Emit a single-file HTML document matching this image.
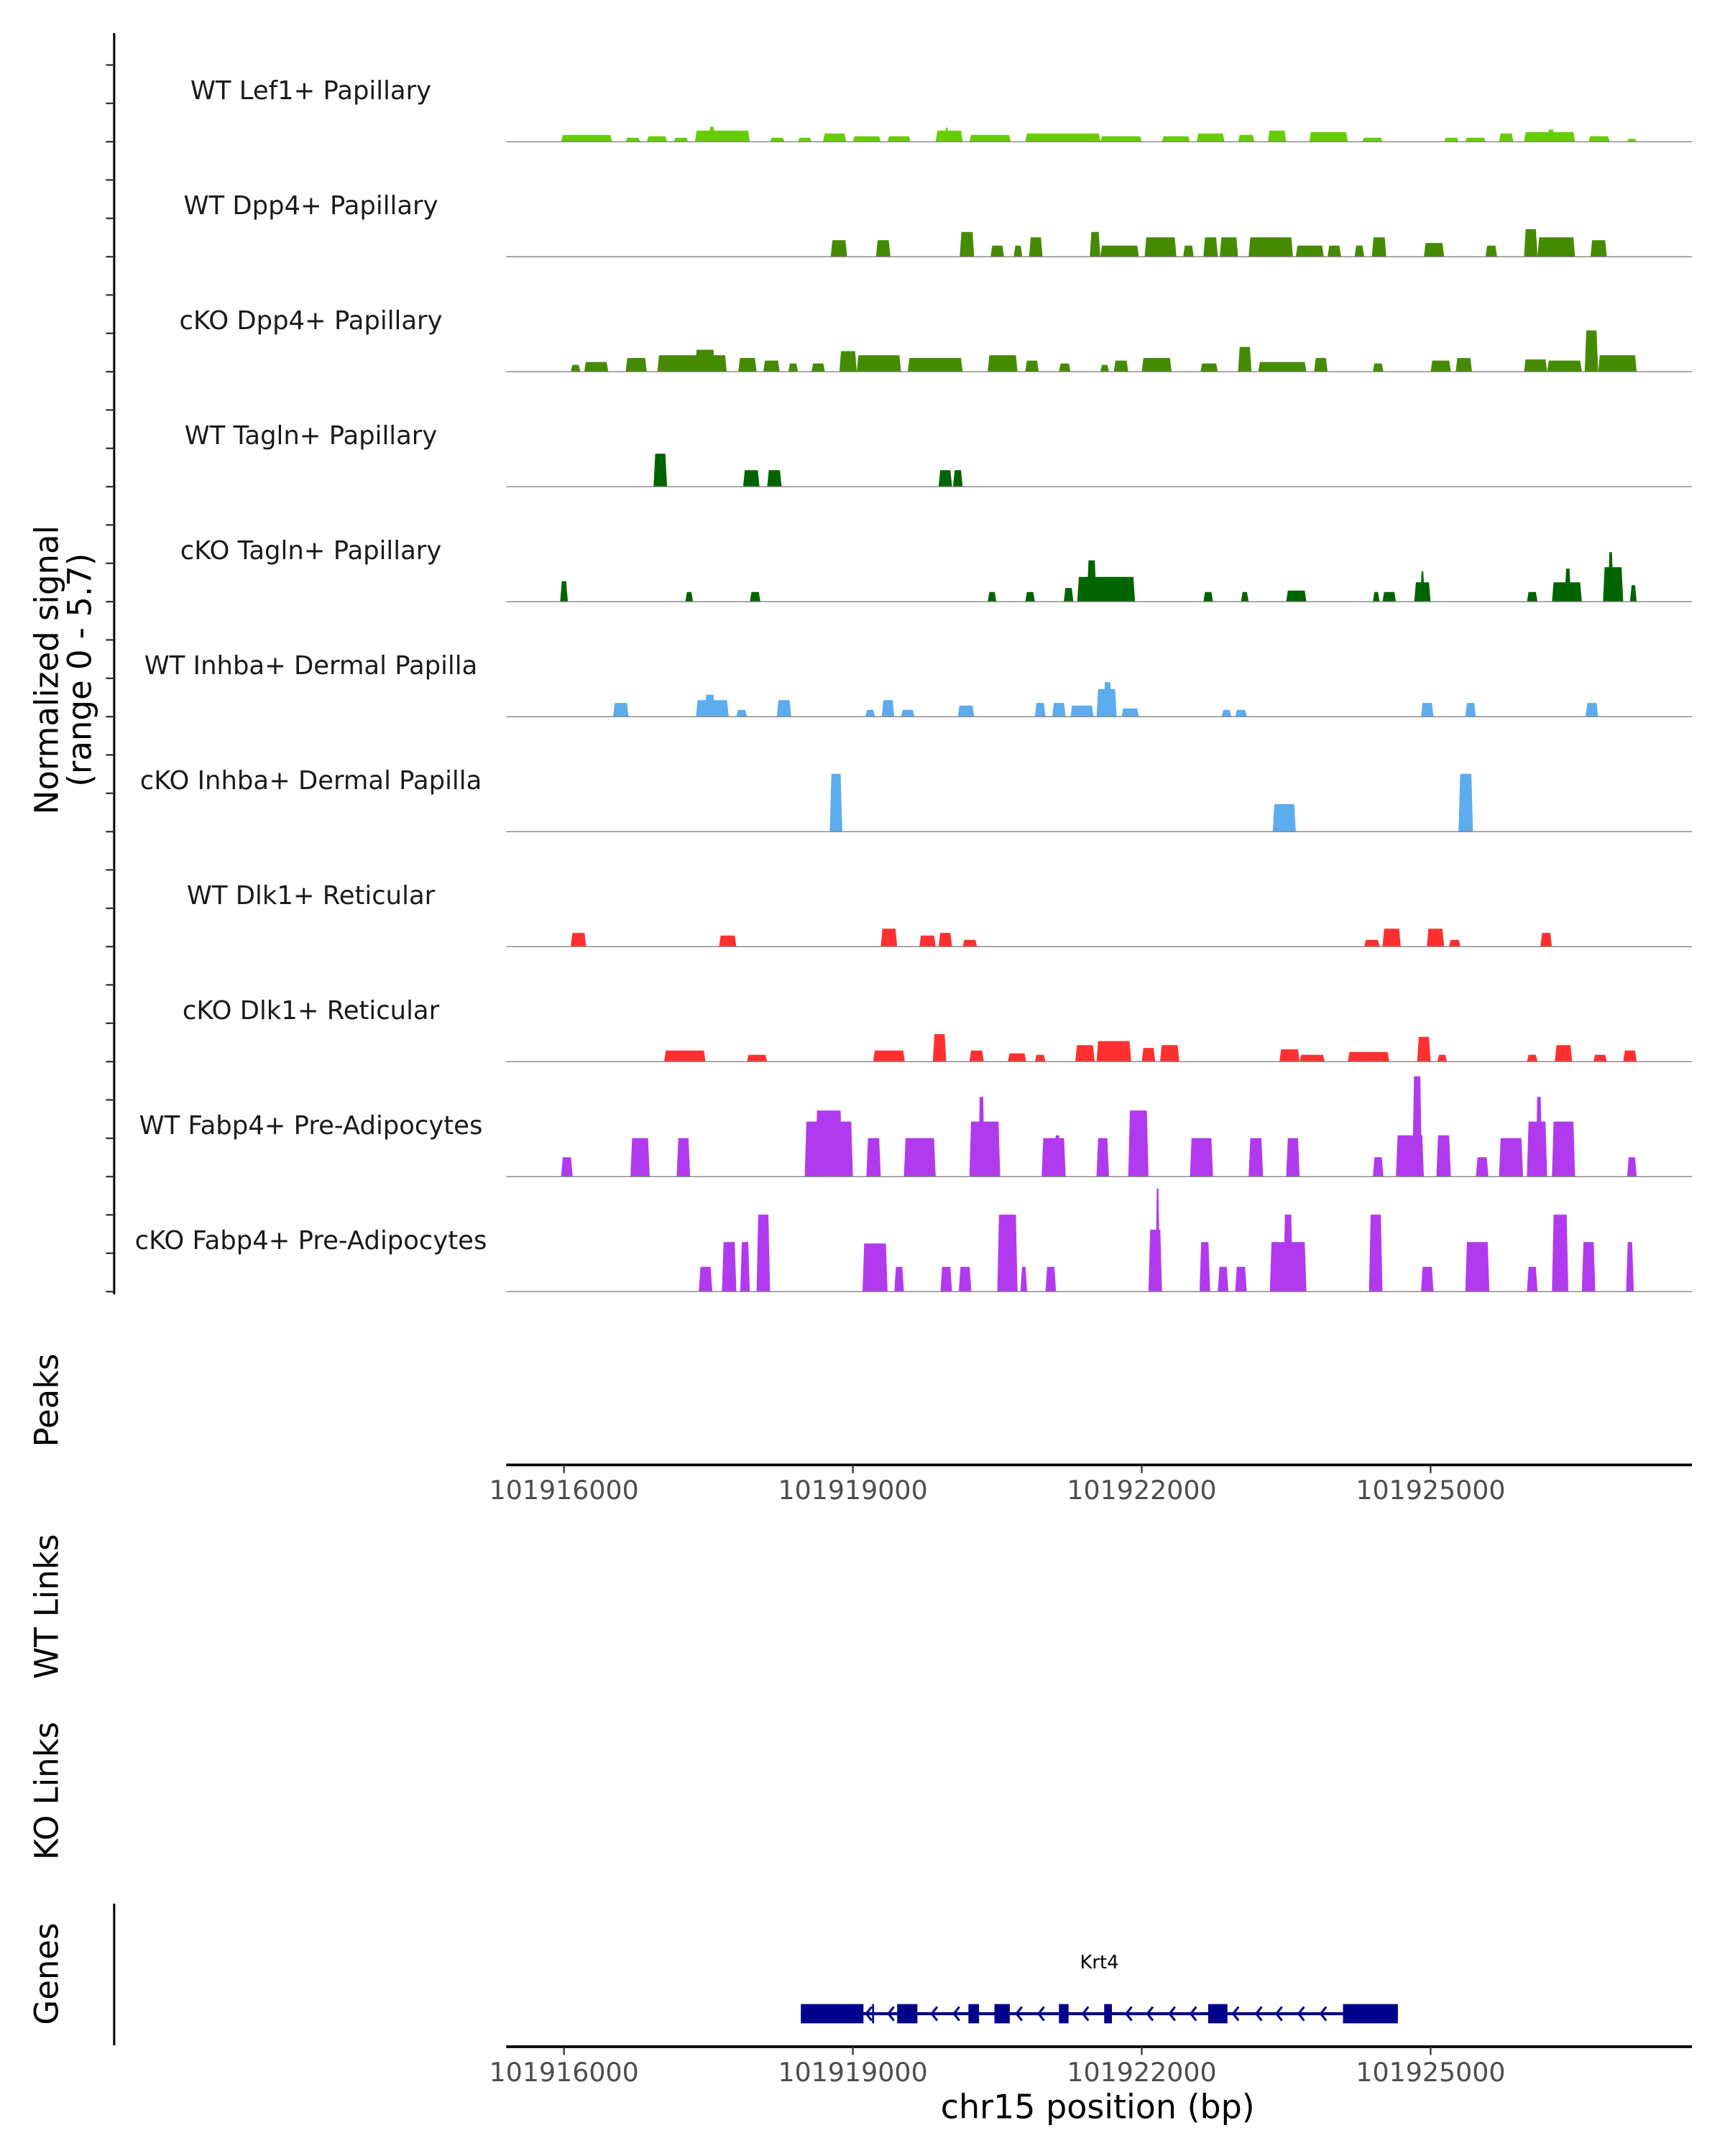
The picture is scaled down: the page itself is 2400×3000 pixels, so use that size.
<!DOCTYPE html>
<html><head><meta charset="utf-8"><style>
html,body{margin:0;padding:0;background:#fff;}
svg{display:block;font-family:"DejaVu Sans","Liberation Sans",sans-serif;}
</style></head><body>
<svg id="chart" width="2400" height="3000" viewBox="0 0 1254 1567.4" xmlns="http://www.w3.org/2000/svg">
<g id="tracks"></g>
<g id="axes"></g>
<g id="genes"></g>
</svg>
<script>
// ---- data ----
const regionStart = 101916000; // bp, offsets below are kb from this
const yMax = 5.7;
const trackNames = ["WT Lef1+ Papillary","WT Dpp4+ Papillary","cKO Dpp4+ Papillary","WT Tagln+ Papillary","cKO Tagln+ Papillary","WT Inhba+ Dermal Papilla","cKO Inhba+ Dermal Papilla","WT Dlk1+ Reticular","cKO Dlk1+ Reticular","WT Fabp4+ Pre-Adipocytes","cKO Fabp4+ Pre-Adipocytes"];
const trackColors = ["#66CD00","#458B00","#458B00","#006400","#006400","#5CACEE","#5CACEE","#FF3030","#FF3030","#B23AEE","#B23AEE"];
// [startKb, endKb, signal]
const sigLef1WT = [[-0.03,0.5,0.34],[0.64,0.79,0.2],[0.86,1.07,0.27],[1.14,1.29,0.2],[1.36,1.93,0.55],[1.5,1.57,0.75],[2.14,2.29,0.2],[2.43,2.57,0.2],[2.69,2.93,0.41],[3.0,3.29,0.27],[3.36,3.6,0.27],[3.86,4.14,0.55],[3.95,4.0,0.7],[4.21,4.64,0.34],[4.79,5.57,0.41],[5.57,6.0,0.27],[6.21,6.5,0.27],[6.57,6.86,0.41],[7.0,7.17,0.34],[7.31,7.5,0.55],[7.74,8.14,0.48],[8.29,8.5,0.2],[9.14,9.29,0.2],[9.36,9.57,0.2],[9.71,9.86,0.41],[9.97,10.5,0.48],[10.21,10.29,0.6],[10.64,10.86,0.27],[11.04,11.14,0.14]];
const sigDpp4WT = [[2.77,2.94,0.82],[3.24,3.39,0.82],[4.11,4.26,1.23],[4.43,4.57,0.55],[4.67,4.76,0.55],[4.83,4.97,0.96],[5.46,5.57,1.23],[5.57,5.97,0.55],[6.03,6.36,0.96],[6.43,6.54,0.55],[6.64,6.79,0.96],[6.81,7.0,0.96],[7.11,7.57,0.96],[7.6,7.89,0.55],[7.93,8.07,0.55],[8.21,8.31,0.55],[8.39,8.54,0.96],[8.93,9.14,0.68],[9.57,9.69,0.55],[9.97,10.11,1.37],[10.11,10.5,0.96],[10.66,10.83,0.82]];
const sigDpp4KO = [[0.07,0.17,0.34],[0.21,0.46,0.48],[0.64,0.86,0.68],[0.97,1.69,0.82],[1.36,1.57,1.09],[1.81,2.0,0.68],[2.07,2.24,0.55],[2.33,2.43,0.41],[2.57,2.71,0.41],[2.86,3.04,1.02],[3.04,3.5,0.82],[3.57,4.14,0.68],[4.4,4.71,0.82],[4.79,4.93,0.55],[5.14,5.26,0.41],[5.57,5.66,0.34],[5.71,5.86,0.55],[6.0,6.31,0.68],[6.61,6.79,0.41],[7.0,7.14,1.23],[7.21,7.71,0.48],[7.79,7.93,0.68],[8.4,8.51,0.41],[9.0,9.21,0.55],[9.26,9.43,0.68],[9.97,10.21,0.61],[10.21,10.57,0.55],[10.6,10.74,2.05],[10.74,11.14,0.82]];
const sigTaglnWT = [[0.93,1.07,1.64],[1.86,2.03,0.82],[2.11,2.26,0.82],[3.89,4.03,0.82],[4.04,4.14,0.82]];
const sigTaglnKO = [[-0.04,0.04,1.02],[1.26,1.34,0.48],[1.93,2.04,0.48],[4.4,4.49,0.48],[4.79,4.89,0.48],[5.19,5.29,0.68],[5.33,5.93,1.23],[5.43,5.53,2.05],[6.64,6.74,0.48],[7.03,7.11,0.48],[7.5,7.71,0.55],[8.4,8.47,0.48],[8.5,8.64,0.48],[8.83,9.0,0.96],[8.89,8.94,1.5],[10.0,10.11,0.48],[10.26,10.57,0.96],[10.39,10.46,1.64],[10.79,11.0,1.71],[10.84,10.9,2.46],[11.07,11.14,0.82]];
const sigInhbaWT = [[0.51,0.67,0.68],[1.37,1.71,0.82],[1.46,1.57,1.09],[1.79,1.9,0.34],[2.21,2.36,0.82],[3.13,3.23,0.34],[3.3,3.43,0.82],[3.5,3.64,0.34],[4.09,4.26,0.55],[4.89,5.0,0.68],[5.07,5.21,0.68],[5.26,5.5,0.55],[5.53,5.74,1.37],[5.6,5.69,1.71],[5.79,5.97,0.41],[6.83,6.93,0.34],[6.97,7.09,0.34],[8.9,9.03,0.68],[9.36,9.47,0.68],[10.61,10.74,0.68]];
const sigInhbaKO = [[2.76,2.89,2.87],[7.36,7.6,1.37],[9.29,9.44,2.87]];
const sigDlk1WT = [[0.07,0.23,0.68],[1.61,1.79,0.55],[3.29,3.46,0.89],[3.69,3.86,0.55],[3.89,4.03,0.68],[4.14,4.29,0.34],[8.31,8.47,0.34],[8.5,8.69,0.89],[8.96,9.14,0.89],[9.19,9.31,0.34],[10.14,10.26,0.68]];
const sigDlk1KO = [[1.04,1.47,0.55],[1.9,2.11,0.34],[3.21,3.54,0.55],[3.83,3.97,1.37],[4.21,4.36,0.55],[4.61,4.8,0.41],[4.89,5.0,0.34],[5.31,5.51,0.82],[5.53,5.89,1.02],[6.0,6.14,0.68],[6.19,6.39,0.82],[7.43,7.64,0.61],[7.64,7.9,0.34],[8.14,8.57,0.48],[8.86,9.0,1.23],[9.07,9.17,0.34],[10.0,10.11,0.34],[10.29,10.47,0.82],[10.69,10.83,0.34],[11.0,11.14,0.55]];
const sigFabp4WT = [[-0.03,0.09,0.96],[0.69,0.89,1.91],[1.17,1.31,1.91],[2.5,3.0,2.73],[2.61,2.89,3.28],[3.14,3.29,1.91],[3.53,3.86,1.91],[4.21,4.53,2.73],[4.3,4.37,3.96],[4.96,5.21,1.91],[5.09,5.16,2.05],[5.53,5.66,1.91],[5.86,6.07,3.28],[6.5,6.74,1.91],[7.11,7.26,1.91],[7.5,7.64,1.91],[8.4,8.51,0.96],[8.64,8.93,2.05],[8.81,8.91,4.98],[9.06,9.21,2.05],[9.47,9.6,0.96],[9.71,9.96,1.91],[10.0,10.21,2.73],[10.09,10.16,3.96],[10.26,10.5,2.73],[11.04,11.14,0.96]];
const sigFabp4KO = [[1.4,1.54,1.23],[1.64,1.79,2.46],[1.83,1.93,2.46],[2.0,2.14,3.82],[3.1,3.36,2.39],[3.43,3.53,1.23],[3.91,4.03,1.23],[4.1,4.23,1.23],[4.5,4.71,3.82],[4.74,4.81,1.23],[5.0,5.11,1.23],[6.07,6.21,3.07],[6.14,6.19,5.12],[6.6,6.71,2.46],[6.79,6.9,1.23],[6.97,7.09,1.23],[7.33,7.71,2.46],[7.47,7.57,3.82],[8.36,8.5,3.82],[8.9,9.03,1.23],[9.36,9.61,2.46],[10.0,10.11,1.23],[10.26,10.43,3.82],[10.57,10.71,2.46],[11.03,11.11,2.46]];
const allSignals = [sigLef1WT,sigDpp4WT,sigDpp4KO,sigTaglnWT,sigTaglnKO,sigInhbaWT,sigInhbaKO,sigDlk1WT,sigDlk1KO,sigFabp4WT,sigFabp4KO];
const xTickLabels = [101916000,101919000,101922000,101925000];
const geneName = "Krt4";
const geneStartKb = 2.46, geneEndKb = 8.66;
const exonsKb = [[2.46,3.11],[3.2,3.22],[3.46,3.67],[4.2,4.31],[4.47,4.63],[5.14,5.24],[5.61,5.69],[6.69,6.89],[8.09,8.66]];
const arrowsKb = [3.16,3.39,3.84,4.07,4.72,4.95,5.41,5.86,6.08,6.31,6.53,6.97,7.21,7.42,7.65,7.88];

// ---- scales ----
const NS="http://www.w3.org/2000/svg";
const plotL=368, plotR=1230;
function xKb(kb){return 410+kb*70;}
function xBp(bp){return xKb((bp-regionStart)/1000);}
const base0=103, step=83.6, trackH=83.5;
function ySig(i,v){return base0+i*step - v/yMax*trackH;}
function mk(tag,attrs,parent){const e=document.createElementNS(NS,tag);for(const k in attrs)e.setAttribute(k,attrs[k]);parent.appendChild(e);return e;}
const tracks=document.getElementById('tracks'), axes=document.getElementById('axes'), genes=document.getElementById('genes');

allSignals.forEach((sig,i)=>{
  const g=mk('g',{},tracks);
  
  
  const b=base0+i*step;
  const lab=mk('text',{x:226,y:b-31,'text-anchor':'middle','font-size':18.5,fill:'#1a1a1a'},g);
  lab.textContent=trackNames[i];
  
  
  sig.forEach(s=>{
    const x1=xKb(s[0]),x2=xKb(s[1]),yt=ySig(i,s[2]);
    const d=Math.min(1.2,(x2-x1)/3);
    const p=mk('polygon',{points:`${x1},${b} ${x1+d},${yt} ${x2-d},${yt} ${x2},${b}`,fill:trackColors[i]},g);
    
    
  });
  const ln=mk('line',{x1:plotL,x2:plotR,y1:b,y2:b,stroke:'#8c8c8c','stroke-width':0.8},g);
  
  
});

// left axis
const la=mk('line',{x1:83,x2:83,y1:24,y2:941,stroke:'#000','stroke-width':1.6},axes);


for(let i=0;i<11;i++){for(let k=0;k<3;k++){const y=base0+i*step-k*27.9;
  const t=mk('line',{x1:77,x2:83,y1:y,y2:y,stroke:'#333','stroke-width':1.2},axes);
  
  }}
function vtext(txt,x,y,name,size){const t=mk('text',{x:x,y:y,'text-anchor':'middle','font-size':size||23.5,transform:`rotate(-90 ${x} ${y})`,fill:'#000'},axes);t.textContent=txt;
  
  return t;}
vtext('Normalized signal',42,487,'y-axis-title');
vtext('(range 0 - 5.7)',66,487,'y-axis-range');
vtext('Peaks',42,1018,'peaks-label');
vtext('WT Links',42,1168,'wt-links-label');
vtext('KO Links',42,1302,'ko-links-label');
vtext('Genes',42,1435,'genes-label');

function xAxis(y,name){
  const l=mk('line',{x1:plotL,x2:plotR,y1:y,y2:y,stroke:'#000','stroke-width':2},axes);
  
  
  xTickLabels.forEach(v=>{const x=xBp(v);
    const tk=mk('line',{x1:x,x2:x,y1:y,y2:y+6,stroke:'#333','stroke-width':1.2},axes);
    
    
    const t=mk('text',{x:x,y:y+25,'text-anchor':'middle','font-size':19,fill:'#4d4d4d'},axes);t.textContent=v;
    
    });
}
xAxis(1065,'peaks-x-axis');
xAxis(1488,'genes-x-axis');
const xt=mk('text',{x:798,y:1540,'text-anchor':'middle','font-size':24,fill:'#000'},axes);xt.textContent='chr15 position (bp)';


const ga=mk('line',{x1:83,x2:83,y1:1384,y2:1487,stroke:'#000','stroke-width':1.6},axes);



// gene
const gy=1464;
const gl=mk('line',{x1:xKb(geneStartKb),x2:xKb(geneEndKb),y1:gy,y2:gy,stroke:'#00008B','stroke-width':2.2},genes);


exonsKb.forEach(e=>{const r=mk('rect',{x:xKb(e[0]),y:gy-7,width:Math.max(1.2,xKb(e[1])-xKb(e[0])),height:14,fill:'#00008B'},genes);
  
  });
arrowsKb.forEach(a=>{const x=xKb(a);const p=mk('polyline',{points:`${x+2.5},${gy-5} ${x-1.5},${gy} ${x+2.5},${gy+5}`,fill:'none',stroke:'#00008B','stroke-width':1.6},genes);
  
  });
const gn=mk('text',{x:xKb((geneStartKb+geneEndKb)/2),y:1431,'text-anchor':'middle','font-size':13.5,fill:'#000'},genes);gn.textContent=geneName;


</script>
</body></html>
